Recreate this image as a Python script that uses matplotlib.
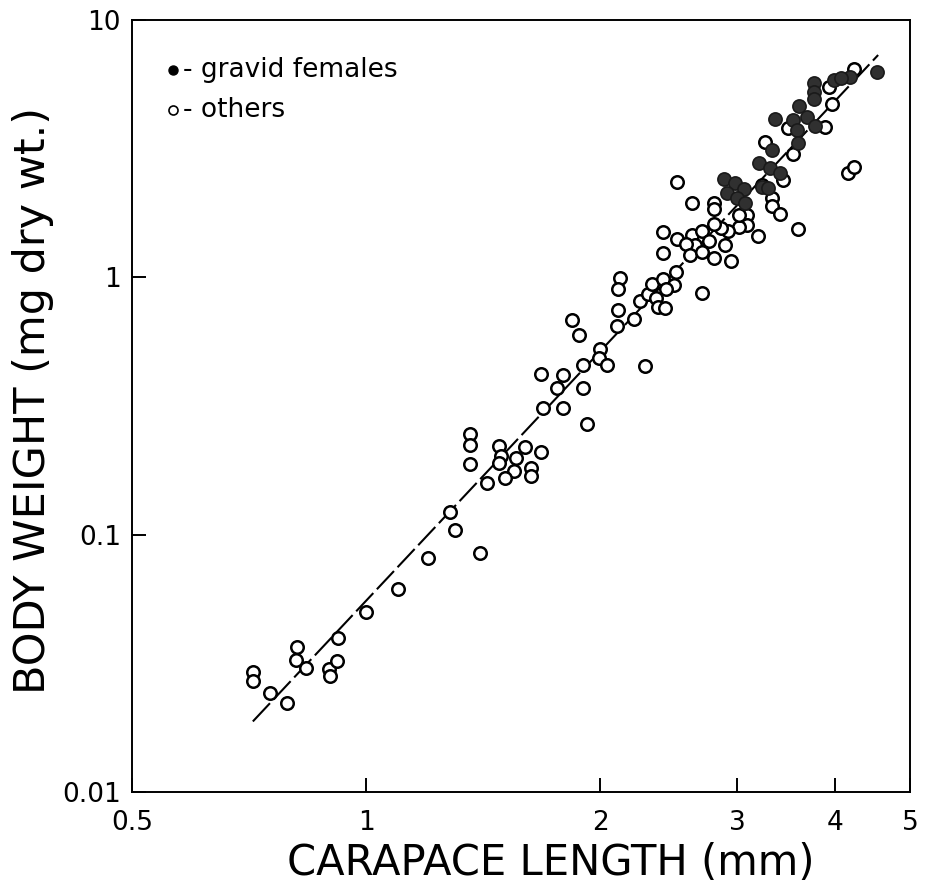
import matplotlib
matplotlib.use("Agg")
import matplotlib.pyplot as plt
from matplotlib.ticker import FixedLocator, FixedFormatter, NullLocator

# ---- data (carapace length mm, body weight mg dry wt.) ----
others_L = [0.715, 0.715, 0.752, 0.792, 0.815, 0.813, 0.838, 0.895, 0.916, 0.899,
            0.921, 1.00, 1.10, 1.20, 1.28, 1.30, 1.40, 1.43, 1.36, 1.36,
            1.36, 1.48, 1.49, 1.48, 1.60, 1.68, 1.56, 1.55, 1.51, 1.63,
            1.63, 1.68, 1.79, 1.76, 1.90, 1.69, 1.79, 1.92, 1.84, 1.88,
            2.00, 1.99, 2.04, 1.90, 2.28, 2.11, 2.10, 2.12, 2.11, 2.21,
            2.25, 2.30, 2.36, 2.37, 2.42, 2.33, 2.41, 2.49, 2.43, 2.50,
            2.70, 2.41, 2.41, 2.51, 2.62, 2.70, 2.76, 2.65, 2.58, 2.61,
            2.70, 2.80, 2.89, 2.94, 2.62, 2.80, 2.80, 3.09, 3.09, 3.01,
            2.92, 2.86, 2.80, 3.19, 2.51, 3.32, 3.32, 3.40, 3.59, 3.23,
            3.43, 3.54, 3.26, 3.48, 3.89, 3.97, 3.93, 4.24, 4.16, 4.24,
            3.01]
others_W = [0.0293, 0.0270, 0.0243, 0.0221, 0.0365, 0.0326, 0.0304, 0.0300, 0.0323, 0.0282,
            0.0395, 0.0502, 0.0614, 0.0811, 0.122, 0.104, 0.0848, 0.159, 0.246, 0.223,
            0.189, 0.221, 0.202, 0.190, 0.220, 0.210, 0.198, 0.176, 0.166, 0.181,
            0.169, 0.421, 0.418, 0.373, 0.373, 0.312, 0.310, 0.269, 0.680, 0.599,
            0.528, 0.487, 0.457, 0.455, 0.453, 0.746, 0.647, 0.991, 0.898, 0.686,
            0.809, 0.860, 0.831, 0.765, 0.758, 0.946, 0.982, 0.933, 0.898, 1.05,
            0.871, 1.24, 1.50, 1.41, 1.46, 1.51, 1.39, 1.34, 1.35, 1.22,
            1.26, 1.19, 1.34, 1.16, 1.94, 1.95, 1.84, 1.75, 1.60, 1.57,
            1.52, 1.55, 1.61, 1.45, 2.35, 2.03, 1.89, 1.77, 1.54, 2.28,
            2.39, 3.02, 3.37, 3.79, 3.85, 4.72, 5.51, 6.47, 2.54, 2.68,
            1.75]

gravid_L = [4.53, 4.19, 3.99, 4.08, 3.76, 3.76, 3.76, 3.60, 3.69, 3.77,
            3.35, 3.54, 3.58, 3.59, 3.32, 3.20, 3.30, 3.40, 2.88, 2.98,
            3.06, 2.91, 3.00, 3.07, 3.23, 3.28]
gravid_W = [6.30, 5.98, 5.84, 5.95, 5.68, 5.27, 4.91, 4.62, 4.19, 3.86,
            4.11, 4.09, 3.74, 3.33, 3.12, 2.77, 2.66, 2.55, 2.42, 2.33,
            2.21, 2.13, 2.03, 1.94, 2.24, 2.22]

fit_L = [0.715, 4.55]
fit_W = [0.0188, 7.31]

x_ticks = [0.5, 1, 2, 3, 4, 5]
x_ticklabels = ["0.5", "1", "2", "3", "4", "5"]
y_ticks = [0.01, 0.1, 1, 10]
y_ticklabels = ["0.01", "0.1", "1", "10"]

xlabel = "CARAPACE LENGTH (mm)"
ylabel = "BODY WEIGHT (mg dry wt.)"
legend_labels = ["- gravid females", "- others"]

# ---- figure ----
plt.rcParams['font.family'] = ['DejaVu Sans']
fig = plt.figure(figsize=(9.25, 8.86), dpi=100)
ax = fig.add_axes([132/925, 1-792/886, 778/925, 772/886])
ax.set_xscale('log')
ax.set_yscale('log')
ax.set_xlim(0.5, 5)
ax.set_ylim(0.01, 10)

ax.plot(fit_L, fit_W, color='black', lw=1.5, dashes=(12, 2.5), zorder=1,
        solid_capstyle='butt')
ax.plot(others_L, others_W, linestyle='none', marker='o', ms=9,
        mfc='white', mec='black', mew=1.8, zorder=2)
ax.plot(gravid_L, gravid_W, linestyle='none', marker='o', ms=9.5,
        mfc='#303030', mec='#1a1a1a', mew=1.2, zorder=3)

for s in ax.spines.values():
    s.set_linewidth(1.4)

ax.xaxis.set_major_locator(FixedLocator(x_ticks))
ax.xaxis.set_major_formatter(FixedFormatter(x_ticklabels))
ax.xaxis.set_minor_locator(NullLocator())
ax.yaxis.set_major_locator(FixedLocator(y_ticks))
ax.yaxis.set_major_formatter(FixedFormatter(y_ticklabels))
ax.yaxis.set_minor_locator(NullLocator())
ax.tick_params(axis='x', direction='in', length=10, width=1.4, pad=13, labelsize=19)
ax.tick_params(axis='y', direction='in', length=10, width=1.4, pad=8, labelsize=19)

fig.text(551/925, 1-863/886, xlabel, ha='center', va='center', fontsize=30)
fig.text(33/925, 1-400/886, ylabel, ha='center', va='center', rotation=90, fontsize=31)

# legend (manual, as in the original figure)
ax.plot([0.0527], [0.9352], transform=ax.transAxes, marker='o', ms=6.5,
        mfc='black', mec='black', linestyle='none', clip_on=False)
ax.plot([0.0527], [0.8834], transform=ax.transAxes, marker='o', ms=6.5,
        mfc='white', mec='black', mew=1.2, linestyle='none', clip_on=False)
ax.text(0.0656, 0.9352, legend_labels[0], transform=ax.transAxes,
        ha='left', va='center', fontsize=19)
ax.text(0.0656, 0.8834, legend_labels[1], transform=ax.transAxes,
        ha='left', va='center', fontsize=19)

fig.savefig("out.png", dpi=100)
